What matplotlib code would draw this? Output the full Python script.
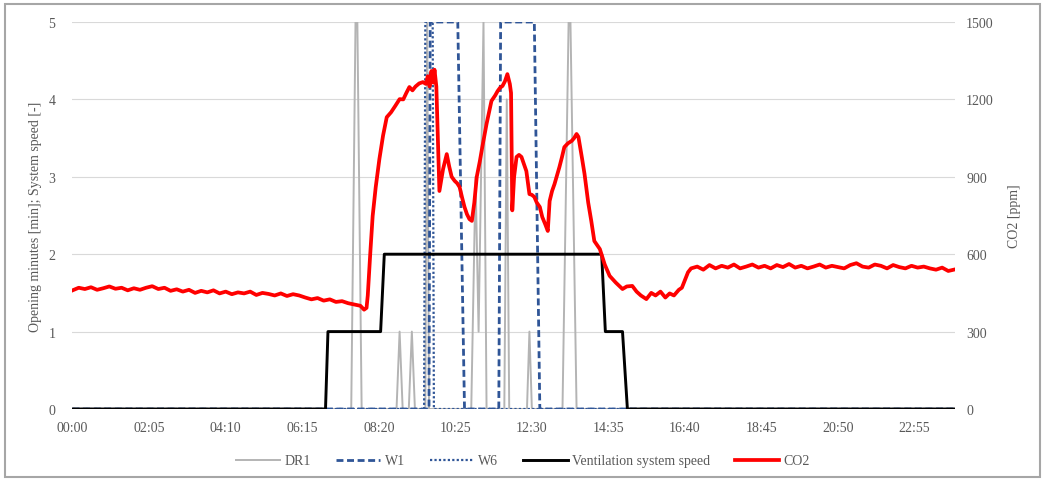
import matplotlib
matplotlib.use("Agg")
import matplotlib.pyplot as plt
from matplotlib.patches import Rectangle

plt.rcParams["font.family"] = ["Liberation Serif", "DejaVu Serif"]

# -----------------------------
# Data (time in minutes after midnight)
# -----------------------------

tick_minutes = [0, 125, 250, 375, 500, 625, 750, 875, 1000, 1125, 1250, 1375]
tick_labels = ["00:00", "02:05", "04:10", "06:15", "08:20", "10:25",
               "12:30", "14:35", "16:40", "18:45", "20:50", "22:55"]

left_ticks = [0, 1, 2, 3, 4, 5]
right_ticks = [0, 300, 600, 900, 1200, 1500]

dr1_time = [0, 455, 462, 465, 472, 529, 534, 539, 549, 554, 559, 576, 579, 582,
            651, 658, 663, 671, 676, 705, 709, 713, 742, 746, 750,
            800, 810, 813, 823, 1439]
dr1_value = [0, 0, 5, 5, 0, 0, 1, 0, 0, 1, 0, 0, 5, 0,
             0, 3, 1, 5, 0, 0, 4, 0, 0, 1, 0,
             0, 5, 5, 0, 0]

w1_time = [0, 582, 584, 629, 640, 696, 699, 754, 763, 1439]
w1_value = [0, 0, 5, 5, 0, 0, 5, 5, 0, 0]

w6_time = [0, 574, 576, 588, 590, 1439]
w6_value = [0, 0, 5, 5, 0, 0]

vent_time = [0, 413, 417, 503, 509, 864, 870, 898, 906, 1439]
vent_speed = [0, 0, 1, 1, 2, 2, 1, 1, 0, 0]

co2_time = [0, 10, 20, 30, 40, 50, 60, 70, 80, 90, 100, 110, 120, 130, 140, 150,
            160, 170, 180, 190, 200, 210, 220, 230, 240, 250, 260, 270, 280, 290,
            300, 310, 320, 330, 340, 350, 360, 370, 380, 390, 400, 410, 420, 430,
            440, 450, 460, 470, 476, 480, 482, 486, 490, 495, 501, 507, 513, 520,
            527, 534, 540, 545, 550, 555, 560, 566, 572, 577, 580, 583, 586, 589,
            591, 594, 597, 599, 605, 611, 615, 619, 624, 628, 632, 636, 640, 644,
            648, 652, 656, 660, 665, 669, 676, 684, 690, 694, 698, 702, 706, 710,
            714, 716, 718, 721, 725, 729, 733, 737, 741, 746, 750, 754, 758, 763,
            767, 772, 776, 779, 783, 787, 791, 795, 799, 803, 809, 815, 819, 823,
            826, 828, 832, 836, 842, 847, 852, 861, 869, 877, 887, 898, 905, 914,
            921, 928, 937, 945, 952, 960, 968, 975, 982, 990, 995, 1000, 1005,
            1010, 1020, 1030, 1040, 1050, 1060, 1070, 1080, 1090, 1100, 1110,
            1120, 1130, 1140, 1150, 1160, 1170, 1180, 1190, 1200, 1210, 1220,
            1230, 1240, 1250, 1260, 1270, 1280, 1290, 1300, 1310, 1320, 1330,
            1340, 1350, 1360, 1370, 1380, 1390, 1400, 1410, 1420, 1430, 1439]
co2_ppm = [460, 470, 465, 472, 462, 468, 475, 466, 470, 460, 468, 462, 470, 476, 465, 470,
           458, 464, 455, 462, 450, 458, 452, 460, 448, 455, 445, 452, 448, 455,
           442, 450, 446, 440, 448, 438, 445, 440, 432, 425, 430, 420, 425, 415,
           418, 410, 405, 400, 385, 392, 440, 600, 748, 860, 969, 1060, 1131, 1150,
           1175, 1201, 1200, 1225, 1248, 1235, 1250, 1262, 1267, 1260, 1290, 1250, 1310, 1265,
           1315, 1250, 1000, 845, 930, 988, 940, 900, 884, 875, 860, 820, 783, 755,
           736, 729, 800, 900, 960, 1015, 1105, 1194, 1215, 1232, 1245, 1252, 1270, 1298,
           1260, 1225, 770, 900, 977, 985, 977, 950, 922, 833, 830, 822, 800, 783,
           744, 715, 690, 806, 845, 872, 905, 938, 975, 1015, 1030, 1039, 1050, 1066,
           1055, 1027, 970, 911, 800, 729, 651, 620, 560, 516, 490, 465, 475, 477,
           455, 440, 426, 450, 440, 455, 432, 448, 440, 462, 470, 500, 530,
           545, 552, 540, 558, 545, 555, 548, 560, 545, 552, 560,
           548, 555, 545, 558, 550, 562, 548, 555, 545, 552, 560,
           548, 555, 550, 545, 558, 565, 552, 548, 560, 555, 545,
           558, 550, 545, 555, 548, 552, 545, 540, 548, 535, 540]

# -----------------------------
# Figure
# -----------------------------

label_color = "#595959"
blue = "#2F5597"

fig = plt.figure(figsize=(10.46, 4.81), dpi=100)
fig.patches.append(Rectangle((5 / 1046, 3 / 481), 1035 / 1046, 473 / 481,
                             transform=fig.transFigure, fill=False,
                             edgecolor="#A6A6A6", linewidth=1.5))

ax = fig.add_axes([72 / 1046, 71 / 481, 883 / 1046, 387 / 481])
ax2 = ax.twinx()

ax.plot(dr1_time, dr1_value, color="#B4B4B4", lw=1.4, label="DR1")
ax.plot(w1_time, w1_value, color=blue, lw=2.0, linestyle=(0, (2.5, 1.3)), label="W1")
ax.plot(w6_time, w6_value, color=blue, lw=1.6, linestyle=(0, (1, 1)), label="W6")
ax.plot(vent_time, vent_speed, color="black", lw=2.1, label="Ventilation system speed")
ax2.plot(co2_time, co2_ppm, color="#FF0000", lw=2.7, label="CO2")

ax.set_xlim(-1, 1441)
ax.set_ylim(0, 5)
ax2.set_ylim(0, 1500)
ax.set_yticks(left_ticks)
ax2.set_yticks(right_ticks)
ax.set_xticks(tick_minutes)
ax.set_xticklabels(tick_labels)

ax.grid(axis="y", color="#D9D9D9", lw=0.8)
ax.set_axisbelow(True)

for a in (ax, ax2):
    for s in a.spines.values():
        s.set_visible(False)
    a.tick_params(length=0, colors=label_color, labelsize=10)

ax.tick_params(axis="y", pad=12)
ax.tick_params(axis="x", pad=9)
ax2.tick_params(axis="y", pad=8)

ax.set_ylabel("Opening minutes [min]; System speed [-]", color=label_color, fontsize=10)
ax.yaxis.set_label_coords(-0.034, 0.5)
ax2.set_ylabel("CO2 [ppm]", color=label_color, fontsize=10, rotation=90)
ax2.yaxis.set_label_coords(1.06, 0.5)

handles = ax.get_lines() + ax2.get_lines()
leg = fig.legend(handles, [h.get_label() for h in handles], loc="center",
                 bbox_to_anchor=(0.5, 19 / 481), ncol=5, frameon=False,
                 fontsize=10, handlelength=3.2, handletextpad=0.3,
                 columnspacing=1.8)
for t in leg.get_texts():
    t.set_color(label_color)

plt.savefig("out.png", dpi=100)
